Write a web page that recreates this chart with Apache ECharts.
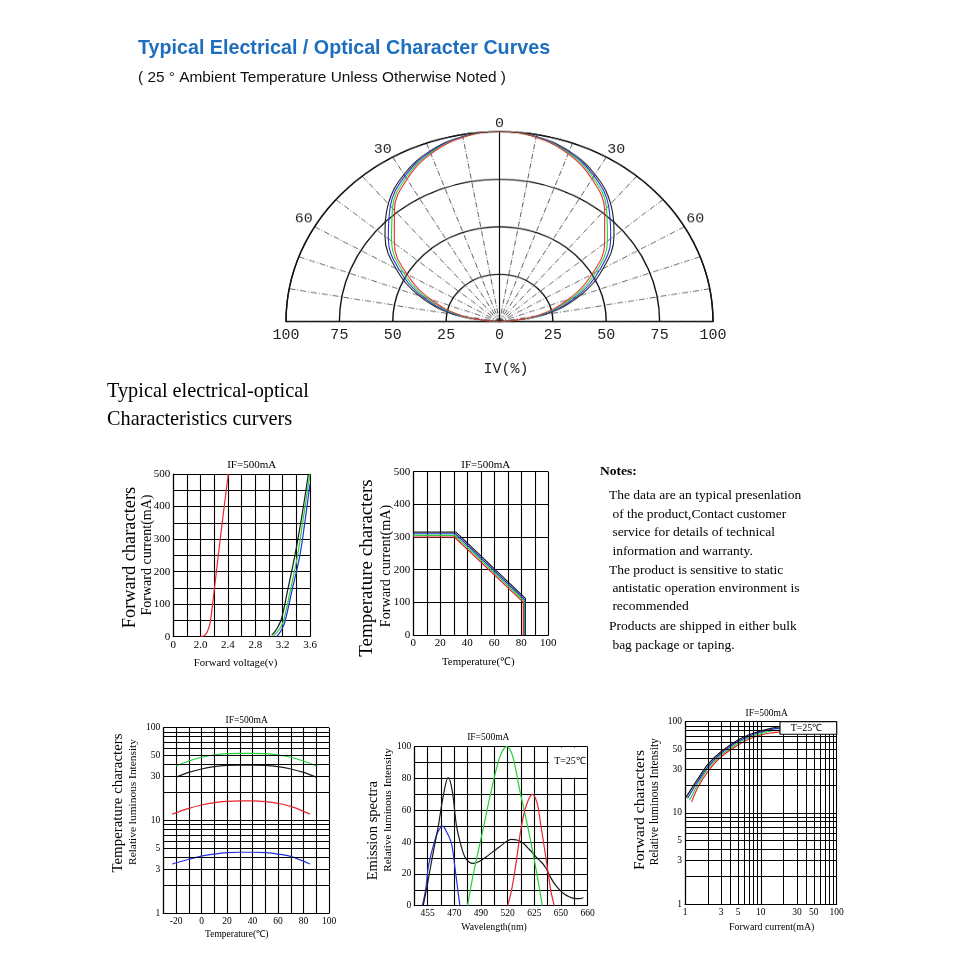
<!DOCTYPE html>
<html><head><meta charset="utf-8">
<script src="https://cdn.jsdelivr.net/npm/echarts@6/dist/echarts.min.js"></script>
<style>
html,body{margin:0;padding:0;background:#fff;}
#main{position:absolute;left:0;top:0;width:960px;height:960px;}
#polar{position:absolute;left:0;top:0;width:960px;height:340px;transform:scaleY(0.89);transform-origin:499.5px 321.7px;}
</style></head><body>
<div id="main"></div><div id="polar"></div>
<script>
// ===== DATA =====
// Radiation pattern (angle in degrees, relative intensity %)
const polarAngles = [-90,-80,-70,-60,-50,-40,-30,-20,-10,0,10,20,30,40,50,60,70,80,90];
const polarBlack = [0,21,40,56,70,81,89.5,95.5,99,100,99,95.5,89.5,81,70,56,40,21,0];
const polarBlue  = [0,20,38,54,68,79.5,88.6,95,98.9,100,98.9,95,88.6,79.5,68,54,38,20,0];
const polarGreen = [0,18.7,36,52,66,78,87.6,94.5,98.7,100,98.7,94.5,87.6,78,66,52,36,18.7,0];
const polarRed   = [0,17.4,34.2,50,64.3,76.6,86.6,94,98.5,100,98.5,94,86.6,76.6,64.3,50,34.2,17.4,0];
const polarAngleTickVals = [-60,-30,0,30,60];
const polarAngleTickLabels = ['60','30','0','30','60'];
const ivTickVals = [-100,-75,-50,-25,0,25,50,75,100];
const ivTickLabels = ['100','75','50','25','0','25','50','75','100'];

// Forward characters: voltage (V) vs current (mA)
const fvTickVals = [1.6,2.0,2.4,2.8,3.2,3.6];
const fvTickLabels = ['0','2.0','2.4','2.8','3.2','3.6'];
const fcTickVals = [0,100,200,300,400,500];
const fvRedX   = [2.0,2.05,2.09,2.137,2.2,2.259,2.33,2.405];
const fvRedY   = [0,3,12,41,145,251,375,500];
const fvBlackX = [3.04,3.08,3.13,3.185,3.28,3.38,3.48,3.574];
const fvBlackY = [5,14,30,56,150,251,370,497];
const fvGreenX = [3.07,3.10,3.15,3.209,3.31,3.419,3.51,3.6];
const fvGreenY = [3,10,22,46,140,251,375,502];
const fvBlueX  = [3.11,3.15,3.19,3.234,3.34,3.453,3.53,3.6];
const fvBlueY  = [0,10,24,46,145,251,360,470];

// Temperature characters: ambient temperature vs forward current
const tcTickVals = [0,20,40,60,80,100];
const tcRedX = [0,30.4,81.5,81.5];   const tcRedY = [300,300,100,0];
const tcGreenX = [0,30.8,82,82];     const tcGreenY = [305,305,104,0];
const tcBlueX = [0,31.2,82.5,82.5];  const tcBlueY = [310,310,108,0];
const tcBlackX = [0,31.6,83,83];     const tcBlackY = [315,315,112,0];

// Temperature vs relative luminous intensity (log)
const tlTickVals = [-20,0,20,40,60,80,100];
const logMinor = [2,3,4,5,6,7,8,9,20,30,40,50,60,70,80,90];
const logMinorLabels = [3,5,30,50];
const tlGBX = [-20,-10,0,10,20,30,40,50,60,70,80,90];
const tlGreenY = [38.7,43.8,48,50.8,52.5,53,53,52.5,50.8,48,43.8,38.7];
const tlBlackY = [29.2,33,35.9,38,39.2,39.6,39.6,39.2,38,35.9,33,29.2];
const tlRBX = [-23,-10,0,10,20,30,40,50,60,70,85];
const tlRedY  = [11.7,13.5,14.7,15.6,16.1,16.3,16.3,16.0,15.3,14.2,11.7];
const tlBlueY = [3.4,3.82,4.14,4.35,4.5,4.55,4.55,4.5,4.35,4.1,3.4];

// Emission spectra (x in grid columns, labels as printed)
const specTickLabels = ['','455','','470','','490','','520','','625','','650','','660'];
const specYTickVals = [0,20,40,60,80,100];
const specBlueX = [0.6,0.85,1.05,1.25,1.47,1.75,2.12,2.45,2.79,3.04,3.25,3.42];
const specBlueY = [0,10,24.5,32,39,46,50,46,39,24.5,11,0];
const specBlackX = [0.67,1.0,1.22,1.5,1.8,2.15,2.54,2.85,3.17,3.5,3.79,4.1,4.41,4.9,5.41,5.9,6.41,6.85,7.28,7.7,8.15,8.5,8.9,9.2,9.53,9.85,10.15,10.5,10.9,11.3,11.65,12.0,12.35,12.69];
const specBlackY = [0,14,24.5,37,50,68,80.5,72,50,38,30.8,27.5,26.6,28,30.8,34,37.1,40,41.7,41.3,39.5,36.5,33,30,27.5,24,19,14,10,7,5.5,4.6,4.4,5];
const specGreenX = [3.99,4.25,4.54,4.88,5.21,5.71,6.28,6.6,6.93,7.3,7.6,7.93,8.43,8.93,9.3,9.6];
const specGreenY = [0,12,24.5,37.5,50,70,90,97,100,96,86,71.7,52.8,31.9,15.1,0];
const specRedX = [7.0,7.3,7.6,7.85,8.06,8.4,8.85,9.2,9.45,9.8,10.05,10.25,10.5];
const specRedY = [0,10,25,40,51,63,70,65,53,34,20,9,0];

// Forward current vs relative luminous intensity (log-log)
const fiBlackX = [1.03,1.5,2,3,5,7,10,14,18];  const fiBlackY = [14.8,24,34,47,63,72,79,85,88];
const fiBlueX  = [1.08,1.5,2,3,5,7,10,14,18];  const fiBlueY  = [14.5,22.5,32,45,60.5,69.5,77,82.5,85];
const fiGreenX = [1.15,1.5,2,3,5,7,10,14,18];  const fiGreenY = [13.8,21,30.3,43,58,67,74,79.5,81.5];
const fiRedX   = [1.22,1.5,2,3,5,7,10,14,18];  const fiRedY   = [13.2,19.5,28.4,41.3,55.5,64.5,71.4,75.5,77.5];

const noteLines = [
  'The data are an typical presenlation',
  ' of the product,Contact customer',
  ' service for details of technical',
  ' information and warranty.',
  'The product is sensitive to static',
  ' antistatic operation environment is',
  ' recommended',
  'Products are shipped in either bulk',
  ' bag package or taping.'
];

// ===== STYLE =====
const SERIF = 'Liberation Serif';
const MONO = 'Liberation Mono';
const C_RED = '#e8262c', C_GREEN = '#25d13b', C_BLUE = '#2431d6', C_BLACK = '#1a1a1a';

function lookup(vals, labels) {
  return function (v) {
    for (let i = 0; i < vals.length; i++) if (Math.abs(vals[i] - v) < 1e-6) return labels[i];
    return '';
  };
}
function only(vals) { return lookup(vals, vals.map(String)); }

function axis(extra, fs) {
  const base = {
    type: 'value',
    axisLine: { show: true, onZero: false, lineStyle: { color: '#000', width: 1.2 } },
    axisTick: { show: false },
    splitLine: { show: true, lineStyle: { color: '#000', width: 1.1 } },
    axisLabel: { fontFamily: SERIF, fontSize: fs, color: '#000', margin: 3 }
  };
  const out = Object.assign({}, base, extra);
  out.axisLabel = Object.assign({}, base.axisLabel, extra.axisLabel || {});
  return out;
}

function L(gi, xs, ys, color, smooth) {
  return {
    type: 'line', xAxisIndex: gi, yAxisIndex: gi, data: xs.map((x, i) => [x, ys[i]]),
    showSymbol: false, symbol: 'none', smooth: smooth === undefined ? 0.35 : smooth,
    lineStyle: { color: color, width: 1.2 }, silent: true, z: 3, animation: false
  };
}

function minorLines(gi, dims, fs) {
  const data = [];
  dims.forEach(d => logMinor.forEach(v => { const o = {}; o[d] = v; data.push(o); }));
  return {
    type: 'line', xAxisIndex: gi, yAxisIndex: gi, data: [], z: 1, silent: true,
    markLine: {
      symbol: 'none', silent: true, animation: false,
      lineStyle: { color: '#000', width: 1, type: 'solid' },
      label: {
        show: true, position: 'start', distance: 3, fontFamily: SERIF, fontSize: fs, color: '#000',
        formatter: p => (logMinorLabels.indexOf(p.value) >= 0 ? String(p.value) : '')
      },
      emphasis: { disabled: true },
      data: data
    }
  };
}

function T(text, x, y, size, o) {
  o = o || {};
  const el = {
    type: 'text', x: x, y: y, z: 100, silent: true,
    style: {
      text: text, fontFamily: o.family || SERIF, fontSize: size, fontWeight: o.weight || 'normal',
      fill: o.fill || '#000', align: o.align || 'center', verticalAlign: 'middle'
    }
  };
  if (o.rot) el.rotation = Math.PI / 2;
  return el;
}

// ===== MAIN CHART =====
const main = echarts.init(document.getElementById('main'), null, { renderer: 'canvas' });

const graphics = [
  T('Typical Electrical / Optical Character Curves', 138, 49, 19.7, { family: 'Liberation Sans', weight: 'bold', fill: '#1e6ebf', align: 'left' }),
  T('( 25 \u00b0 Ambient Temperature Unless Otherwise Noted )', 138, 78, 15.4, { family: 'Liberation Sans', fill: '#111', align: 'left' }),
  T('IV(%)', 506, 369, 15, { family: MONO, fill: '#222' }),
  T('Typical electrical-optical', 107, 392, 20.3, { align: 'left' }),
  T('Characteristics curvers', 107, 420, 20.3, { align: 'left' }),
  // chart A
  T('IF=500mA', 251.7, 465, 11),
  T('Forward characters', 130, 557.5, 18.4, { rot: true }),
  T('Forward current(mA)', 147, 555, 14, { rot: true }),
  T('Forward voltage(v)', 235.5, 663, 10.8),
  // chart B
  T('IF=500mA', 485.8, 465, 11),
  T('Temperature characters', 367, 568, 19, { rot: true }),
  T('Forward current(mA)', 386.7, 566, 14.2, { rot: true }),
  T('Temperature(\u2103)', 478.3, 661.7, 10.8),
  // notes
  T('Notes:', 600, 472, 13.5, { weight: 'bold', align: 'left' }),
  // chart C
  T('IF=500mA', 246.7, 720, 9.5),
  T('Temperature characters', 118.3, 803, 14.9, { rot: true }),
  T('Relative luminous Intensity', 133.3, 802, 11.4, { rot: true }),
  T('Temperature(\u2103)', 236.7, 934.3, 9.5),
  // chart D
  T('IF=500mA', 488.3, 737.3, 9.5),
  T('Emission spectra', 373.3, 830.7, 14.6, { rot: true }),
  T('Relative luminous Intensity', 388.3, 810, 11.2, { rot: true }),
  T('Wavelength(nm)', 494, 927.7, 9.8),
  { type: 'rect', z: 99, silent: true, shape: { x: 548.6, y: 747.4, width: 38.3, height: 30.4 }, style: { fill: '#fff' } },
  T('T=25\u2103', 570, 761.7, 10),
  // chart E
  T('IF=500mA', 766.7, 713.3, 9.5),
  T('Forward characters', 640, 810, 15.6, { rot: true }),
  T('Relative luminous Intensity', 655, 801.7, 11.5, { rot: true }),
  T('Forward current(mA)', 771.7, 927.7, 9.9),
  { type: 'rect', z: 99, silent: true, shape: { x: 780, y: 721.7, width: 56.7, height: 12.6 }, style: { fill: '#fff', stroke: '#000', lineWidth: 1.1 } },
  T('T=25\u2103', 806.5, 728.3, 10)
];
const noteY = [495, 514, 532.7, 551.7, 570, 588.3, 606.7, 626.7, 645];
noteLines.forEach((s, i) => graphics.push(T(s, 609, noteY[i], 13.5, { align: 'left' })));

const option = {
  backgroundColor: '#fff',
  animation: false,
  grid: [
    { left: 173.3, top: 474, width: 136.7, height: 162.7 },
    { left: 413.3, top: 471.7, width: 135, height: 163.3 },
    { left: 163.3, top: 727.7, width: 165.7, height: 185.6 },
    { left: 414.3, top: 746.7, width: 173.3, height: 159 },
    { left: 685, top: 721.7, width: 151.7, height: 182.3 },
    { left: 286, top: 300, width: 427, height: 21.7 }
  ],
  xAxis: [
    axis({ gridIndex: 0, min: 1.6, max: 3.6, interval: 0.2, axisLabel: { formatter: lookup(fvTickVals, fvTickLabels) } }, 11),
    axis({ gridIndex: 1, min: 0, max: 100, interval: 10, axisLabel: { formatter: only(tcTickVals) } }, 11),
    axis({ gridIndex: 2, min: -30, max: 100, interval: 10, axisLabel: { formatter: only(tlTickVals) } }, 9.5),
    axis({ gridIndex: 3, min: 0, max: 13, interval: 1, axisLabel: { formatter: v => specTickLabels[Math.round(v)] || '' } }, 9.5),
    axis({ gridIndex: 4, type: 'log', logBase: 10, min: 1, max: 100 }, 9.5),
    {
      gridIndex: 5, type: 'value', min: -100, max: 100, interval: 25,
      axisLine: { show: true, lineStyle: { color: '#111', width: 1.3 } }, axisTick: { show: false }, splitLine: { show: false },
      axisLabel: { fontFamily: MONO, fontSize: 15, color: '#222', margin: 6, formatter: lookup(ivTickVals, ivTickLabels) }
    }
  ],
  yAxis: [
    axis({ gridIndex: 0, min: 0, max: 500, interval: 50, axisLabel: { formatter: only(fcTickVals) } }, 11),
    axis({ gridIndex: 1, min: 0, max: 500, interval: 100 }, 11),
    axis({ gridIndex: 2, type: 'log', logBase: 10, min: 1, max: 100 }, 9.5),
    axis({ gridIndex: 3, min: 0, max: 100, interval: 10, axisLabel: { formatter: only(specYTickVals) } }, 9.5),
    axis({ gridIndex: 4, type: 'log', logBase: 10, min: 1, max: 100 }, 9.5),
    { gridIndex: 5, type: 'value', min: 0, max: 1, show: false }
  ],
  graphic: { elements: graphics },
  series: [
    // A
    L(0, fvRedX, fvRedY, C_RED), L(0, fvBlackX, fvBlackY, C_BLACK), L(0, fvGreenX, fvGreenY, C_GREEN), L(0, fvBlueX, fvBlueY, C_BLUE),
    // B
    L(1, tcBlackX, tcBlackY, C_BLACK, false), L(1, tcBlueX, tcBlueY, C_BLUE, false), L(1, tcGreenX, tcGreenY, C_GREEN, false), L(1, tcRedX, tcRedY, C_RED, false),
    // C
    minorLines(2, ['yAxis'], 9.5),
    L(2, tlGBX, tlGreenY, C_GREEN), L(2, tlGBX, tlBlackY, C_BLACK), L(2, tlRBX, tlRedY, C_RED), L(2, tlRBX, tlBlueY, C_BLUE),
    // D
    L(3, specBlueX, specBlueY, C_BLUE), L(3, specBlackX, specBlackY, C_BLACK), L(3, specGreenX, specGreenY, C_GREEN), L(3, specRedX, specRedY, C_RED),
    // E
    minorLines(4, ['xAxis', 'yAxis'], 9.5),
    L(4, fiRedX, fiRedY, C_RED), L(4, fiGreenX, fiGreenY, C_GREEN), L(4, fiBlueX, fiBlueY, C_BLUE), L(4, fiBlackX, fiBlackY, C_BLACK),
    // polar baseline grid (axis only)
    { type: 'line', xAxisIndex: 5, yAxisIndex: 5, data: [], silent: true }
  ]
};
main.setOption(option);

// ===== POLAR CHART (vertically compressed like the reference) =====
const polar = echarts.init(document.getElementById('polar'), null, { renderer: 'canvas' });
function P(vals, color) {
  return {
    type: 'line', coordinateSystem: 'polar', data: vals.map((r, i) => [r, polarAngles[i]]),
    showSymbol: false, symbol: 'none', smooth: 0.4, lineStyle: { color: color, width: 1.1 }, silent: true, z: 3
  };
}
polar.setOption({
  animation: false,
  polar: { center: [499.5, 321.7], radius: 213.5 },
  angleAxis: {
    type: 'value', min: -90, max: 90, interval: 10, startAngle: 180, endAngle: 0, clockwise: true,
    axisLine: { show: true, lineStyle: { color: '#111', width: 1.3 } },
    axisTick: { show: false },
    axisLabel: { show: true, margin: 2, fontFamily: MONO, fontSize: 15, color: '#222', formatter: lookup(polarAngleTickVals, polarAngleTickLabels) },
    splitLine: { show: true, lineStyle: { color: '#333', width: 0.8, type: [6, 2, 1, 2] } }
  },
  radiusAxis: {
    type: 'value', min: 0, max: 100, interval: 25,
    axisLine: { show: false }, axisTick: { show: false }, axisLabel: { show: false },
    splitLine: { show: true, lineStyle: { color: '#111', width: 1.4 } }
  },
  series: [
    { type: 'line', coordinateSystem: 'polar', data: [[0, 0], [100, 0]], showSymbol: false, symbol: 'none', lineStyle: { color: '#111', width: 1.2 }, silent: true, z: 2 },
    P(polarBlack, C_BLACK), P(polarBlue, C_BLUE), P(polarGreen, C_GREEN), P(polarRed, C_RED)
  ]
});
</script>
</body></html>
